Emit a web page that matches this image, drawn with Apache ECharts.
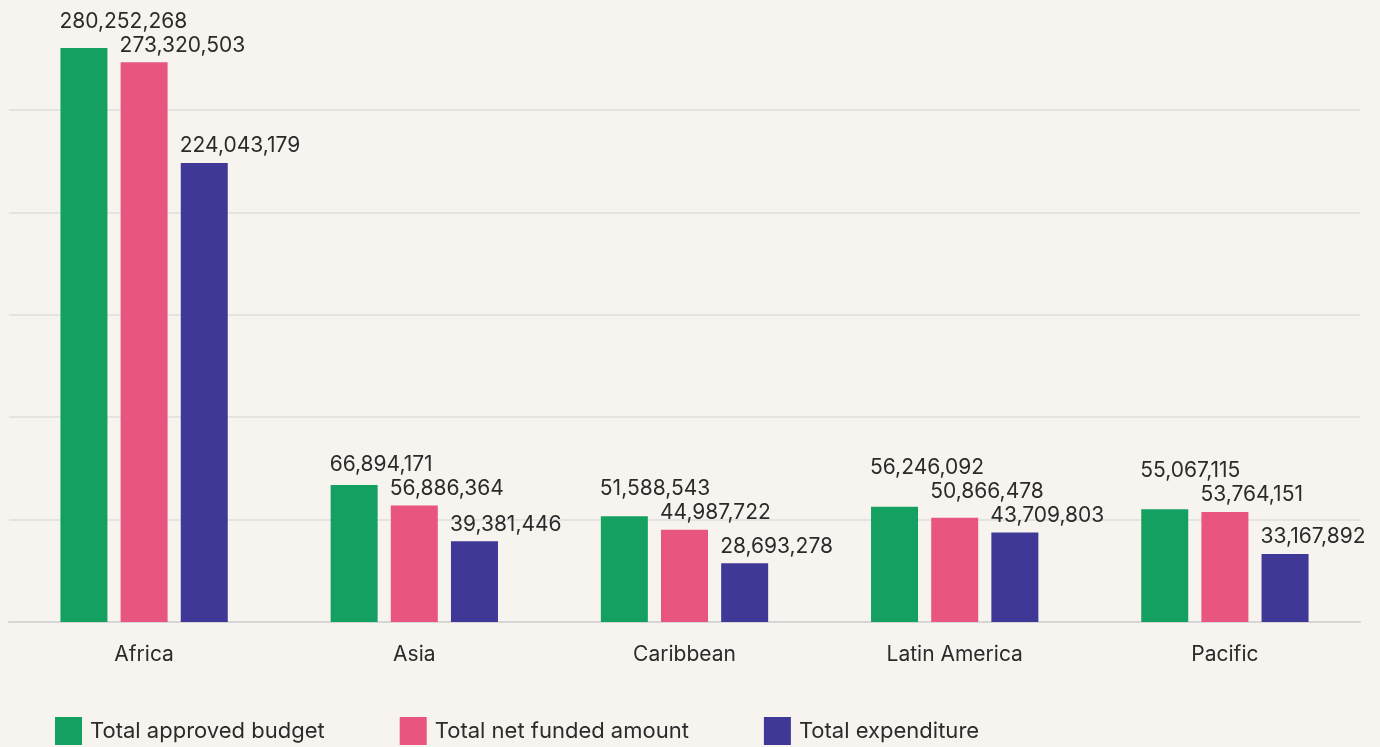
<!DOCTYPE html>
<html>
<head>
<meta charset="utf-8">
<script src="https://cdn.jsdelivr.net/npm/echarts@6/dist/echarts.min.js"></script>
<style>
  html, body { margin: 0; padding: 0; background: #f7f4ef; }
  #chart { width: 1380px; height: 747px; }
</style>
</head>
<body>
<div id="chart"></div>
<script>
const regions = ['Africa', 'Asia', 'Caribbean', 'Latin America', 'Pacific']
const approvedBudget = [280252268, 66894171, 51588543, 56246092, 55067115]
const netFunded = [273320503, 56886364, 44987722, 50866478, 53764151]
const expenditure = [224043179, 39381446, 28693278, 43709803, 33167892]

const allSeries = [approvedBudget, netFunded, expenditure]
const fontFamily = 'Inter, "Noto Sans", sans-serif'
const fmt = v => v.toLocaleString('en-US')

const LABEL_GAP = 17   // label centre above bar top
const LABEL_STEP = 24  // minimum vertical spacing between labels in a group

// stack labels of one group upward so they don't overlap (rightmost stays put)
function layoutLabel(params) {
  const i = params.dataIndex
  const s = params.seriesIndex
  const rect = params.rect
  const base = rect.y + rect.height
  const pxPerUnit = rect.height / allSeries[s][i]
  let y = Infinity
  for (let k = allSeries.length - 1; k >= s; k--) {
    const natural = base - allSeries[k][i] * pxPerUnit - LABEL_GAP
    y = Math.min(natural, y - LABEL_STEP)
  }
  return { x: rect.x - 1, y: y, align: 'left', verticalAlign: 'middle' }
}

function makeSeries(name, data, color) {
  return {
    name: name,
    type: 'bar',
    data: data,
    barWidth: 47,
    barGap: '28%',
    itemStyle: { color: color },
    label: {
      show: true,
      position: 'top',
      color: '#2b2b2b',
      fontFamily: fontFamily,
      fontSize: 21,
      formatter: p => fmt(p.value)
    },
    labelLayout: layoutLabel
  }
}

const chart = echarts.init(document.getElementById('chart'))
chart.setOption({
  backgroundColor: '#f7f4ef',
  animation: false,
  grid: { left: 9, right: 20, top: 48, bottom: 125, containLabel: false },
  legend: {
    top: 717,
    left: 55,
    padding: 0,
    itemWidth: 27,
    itemHeight: 28,
    itemGap: 75,
    icon: 'rect',
    textStyle: { fontFamily: fontFamily, fontSize: 22, color: '#2b2b2b', padding: [2, 0, 0, 3] }
  },
  xAxis: {
    type: 'category',
    data: regions,
    axisTick: { show: false },
    axisLine: { lineStyle: { color: '#d6d6d6', width: 2 } },
    axisLabel: { fontFamily: fontFamily, fontSize: 21, color: '#2b2b2b', margin: 22 }
  },
  yAxis: {
    type: 'value',
    min: 0,
    max: 'dataMax',
    interval: 50000000,
    axisLabel: { show: false },
    axisLine: { show: false },
    axisTick: { show: false },
    splitLine: { showMaxLine: false, lineStyle: { color: '#dedede', width: 1.5 } }
  },
  series: [
    makeSeries('Total approved budget', approvedBudget, '#13a061'),
    makeSeries('Total net funded amount', netFunded, '#e8557f'),
    makeSeries('Total expenditure', expenditure, '#3f3896')
  ]
})
</script>
</body>
</html>
